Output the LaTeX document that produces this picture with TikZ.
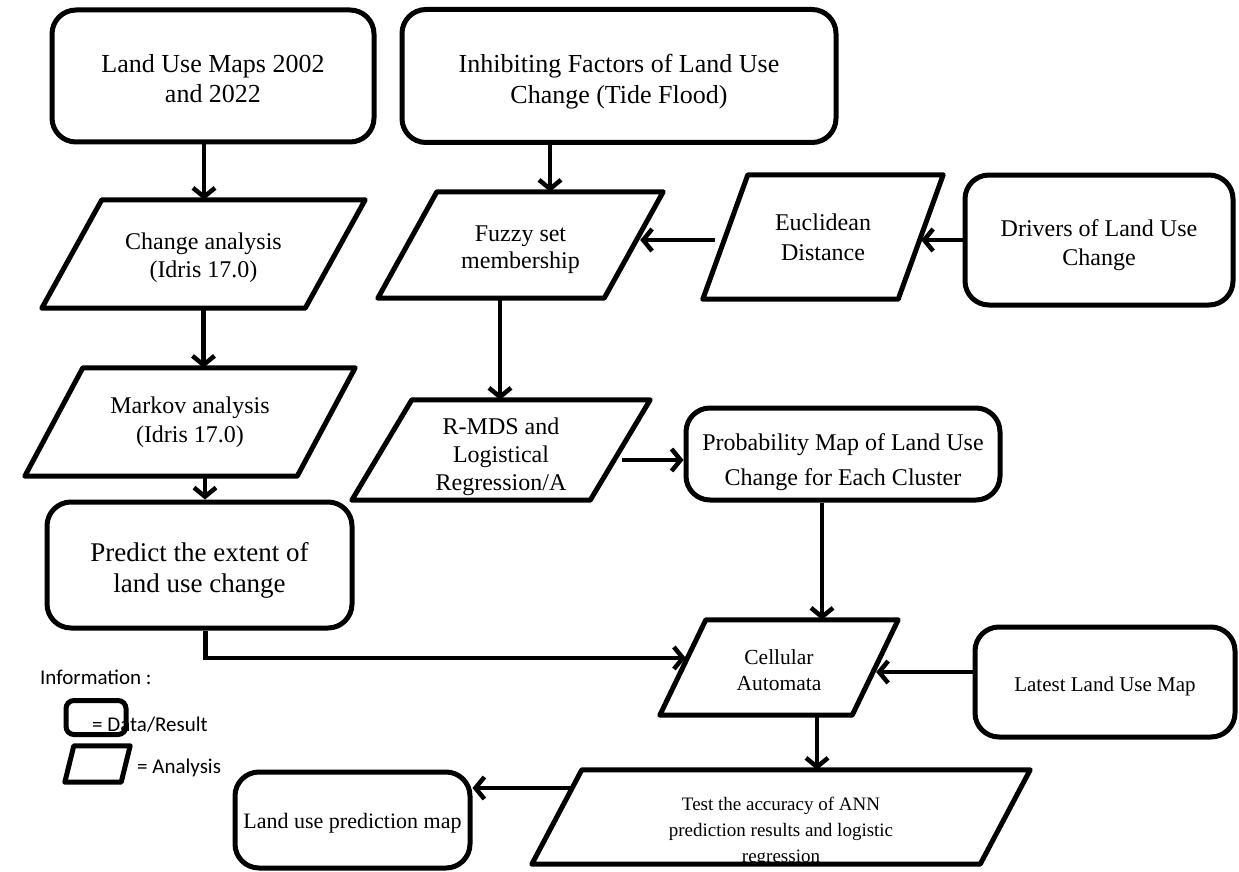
\documentclass[tikz,border=0pt]{standalone}
\usepackage{fontspec}
\setmainfont{Liberation Serif}
\newfontfamily\legendfont{Carlito}
\usetikzlibrary{arrows.meta,calc}

\tikzset{
  databox/.style={draw, line width=5pt, rounded corners=24pt, inner sep=0pt},
  % body of an analysis step; its slanted outline is drawn by \paraoutline
  parabody/.style={rectangle, inner sep=0pt},
  paraline/.style={line width=5pt, line join=round},
  % text set inside a shape and clipped to it: font, vertical offset, lines
  txt/.style n args={3}{path picture={\node[font=#1, align=center, inner sep=0pt]
    at ([yshift=#2]path picture bounding box.center) {#3};}},
  arr/.style={line width=4.5pt, -{Straight Barb[length=9pt,width=22pt]}},
  legendtxt/.style={font=\legendfont\fontsize{21}{24}\selectfont, anchor=west,
    inner sep=0pt},
}
% parallelogram on the box of a node: node name, horizontal slant
\newcommand{\paraoutline}[2]{%
  \draw[paraline] (#1.south west) -- ([xshift=-#2]#1.south east)
    -- (#1.north east) -- ([xshift=#2]#1.north west) -- cycle;}

\begin{document}
\begin{tikzpicture}[x=1pt,y=-1pt]
\useasboundingbox (0,0) rectangle (1239,872);

% data / result boxes
\node[databox, minimum width=322pt, minimum height=132pt,
  txt={\fontsize{26}{30}\selectfont}{-3pt}{Land Use Maps 2002\\and 2022}]
  (maps) at (213,76) {};
\node[databox, minimum width=434pt, minimum height=133pt,
  txt={\fontsize{26}{31}\selectfont}{-6pt}{Inhibiting Factors of Land Use\\Change (Tide Flood)}]
  (inhib) at (619,76) {};
\node[databox, minimum width=305pt, minimum height=126pt,
  txt={\fontsize{27}{31}\selectfont}{-5pt}{Predict the extent of\\land use change}]
  (predict) at (199.5,565) {};
\node[databox, minimum width=268pt, minimum height=130pt,
  txt={\fontsize{24}{29}\selectfont}{-5pt}{Drivers of Land Use\\Change}]
  (drivers) at (1099,240) {};
\node[databox, minimum width=314pt, minimum height=92pt,
  txt={\fontsize{24}{35}\selectfont}{-8pt}{Probability Map of Land Use\\Change for Each Cluster}]
  (prob) at (843,454) {};
\node[databox, minimum width=260pt, minimum height=110pt,
  txt={\fontsize{21}{25}\selectfont}{-4pt}{Latest Land Use Map}]
  (latest) at (1105,682) {};
\node[databox, minimum width=235pt, minimum height=96pt,
  txt={\fontsize{22}{26}\selectfont}{-3pt}{Land use prediction map}]
  (lupm) at (352.5,820) {};

% analysis steps
\node[parabody, minimum width=323pt, minimum height=108pt,
  txt={\fontsize{24}{28}\selectfont}{-4pt}{Change analysis\\(Idris 17.0)}]
  (change) at (203.5,254) {};
\node[parabody, minimum width=330pt, minimum height=108pt,
  txt={\fontsize{24}{29}\selectfont}{0pt}{Markov analysis\\(Idris 17.0)}]
  (markov) at (190,422) {};
\node[parabody, minimum width=285pt, minimum height=106pt,
  txt={\fontsize{24}{27}\selectfont}{-5pt}{Fuzzy set\\membership}]
  (fuzzy) at (520.5,245) {};
\node[parabody, minimum width=240pt, minimum height=124pt,
  txt={\fontsize{24}{30}\selectfont}{0pt}{Euclidean\\Distance}]
  (euclid) at (823,237) {};
\node[parabody, minimum width=298pt, minimum height=100pt,
  txt={\fontsize{24}{28}\selectfont}{-7pt}{R-MDS and\\Logistical\\Regression/A}]
  (rmds) at (501,450) {};
\node[parabody, minimum width=238pt, minimum height=95pt,
  txt={\fontsize{21.5}{26}\selectfont}{-3pt}{Cellular\\Automata}]
  (cellular) at (779,667.5) {};
\node[parabody, minimum width=498pt, minimum height=94pt,
  txt={\fontsize{19}{26}\selectfont}{-15pt}{Test the accuracy of ANN\\prediction results and logistic\\regression}]
  (test) at (781,817) {};

\paraoutline{change}{60pt}
\paraoutline{markov}{58pt}
\paraoutline{fuzzy}{59pt}
\paraoutline{euclid}{45pt}
\paraoutline{rmds}{60pt}
\paraoutline{cellular}{46pt}
\paraoutline{test}{50pt}

% rows of the horizontal feeds
\coordinate (feedY) at (0,240);
\coordinate (rmdsY) at (0,460);
\coordinate (predY) at (0,658);
\coordinate (latestY) at (0,672);
\coordinate (testY) at (0,788);

% connectors
\draw[arr] ([xshift=-9pt]maps.south) -- ([xshift=-9pt]maps.south |- change.north);
\draw[arr] (change.south) -- (change.south |- markov.north);
\draw[arr] ([xshift=15pt]markov.south) -- ([xshift=15pt]markov.south |- predict.north);
\draw[arr] ([xshift=-69pt]inhib.south) -- ([xshift=-69pt]inhib.south |- fuzzy.north);
\draw[arr] ([xshift=-20.5pt]fuzzy.south) -- ([xshift=-20.5pt]fuzzy.south |- rmds.north);
\draw[arr] (drivers.west |- feedY) -- ([xshift=-22pt]euclid.east |- feedY);
\draw[arr] ([xshift=12pt]euclid.west |- feedY) -- ([xshift=-23pt]fuzzy.east |- feedY);
\draw[arr] ([xshift=-28pt]rmds.east |- rmdsY) -- (prob.west |- rmdsY);
\draw[arr] ([xshift=-21pt]prob.south) -- ([xshift=-21pt]prob.south |- cellular.north);
\draw[arr] ([xshift=6pt]predict.south) |- ([xshift=26pt]cellular.west |- predY);
\draw[arr] (latest.west |- latestY) -- ([xshift=-22pt]cellular.east |- latestY);
\draw[arr] ([xshift=38pt]cellular.south) -- ([xshift=38pt]cellular.south |- test.north);
\draw[arr] ([xshift=42pt]test.west |- testY) -- (lupm.east |- testY);

% legend
\node[legendtxt] (info) at (40,677) {Information :};
\node[draw, line width=5pt, rounded corners=8pt, minimum width=60pt,
  minimum height=34pt] (legdata) at (96,717.5) {};
\node[legendtxt] (legdatatxt) at (92,725) {= Data/Result};
\node[parabody, minimum width=65pt, minimum height=36pt] (legana) at (97.5,764) {};
\paraoutline{legana}{9pt}
\node[legendtxt] (leganatxt) at (137,768) {= Analysis};
\end{tikzpicture}
\end{document}
